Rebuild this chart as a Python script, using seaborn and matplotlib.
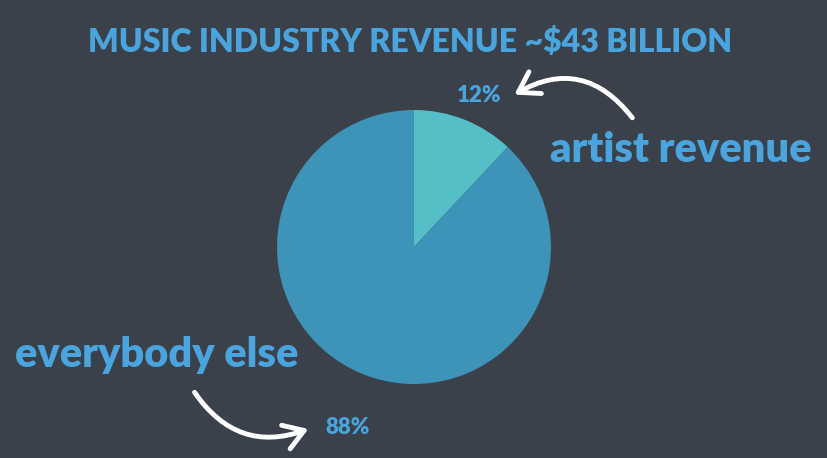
import matplotlib
matplotlib.use("Agg")
import matplotlib.pyplot as plt
import seaborn as sns
from matplotlib.patches import FancyArrowPatch

categories = ["artist revenue", "everybody else"]
shares = [12, 88]
pct_labels = ["12%", "88%"]
title = "MUSIC INDUSTRY REVENUE ~$43 BILLION"

BG = "#3a414b"
TXT = "#4aa5df"
slice_colors = ["#55bfc8", "#3d93b8"]

sns.set_theme(style="white")
plt.rcParams["font.family"] = ["Lato", "DejaVu Sans"]

W, H = 828, 458
fig = plt.figure(figsize=(W / 100, H / 100), dpi=100)
fig.patch.set_facecolor(BG)

def fx(x):
    return x / W

def fy(y):
    return 1 - y / H

cx, cy, r = 414, 247, 137
ax = fig.add_axes([fx(cx - r), fy(cy + r), 2 * r / W, 2 * r / H])
ax.set_facecolor(BG)
ax.pie(shares, colors=slice_colors, startangle=90, counterclock=False,
       wedgeprops=dict(linewidth=0), radius=1.0)
ax.set_xlim(-1, 1)
ax.set_ylim(-1, 1)
ax.set_aspect("equal")
ax.axis("off")

fig.text(fx(410), fy(42), title, color=TXT, fontsize=23, fontweight="heavy",
         ha="center", va="center")
fig.text(fx(681), fy(150), categories[0], color=TXT, fontsize=30, fontweight="heavy",
         ha="center", va="center")
fig.text(fx(157), fy(355), categories[1], color=TXT, fontsize=30, fontweight="heavy",
         ha="center", va="center")
fig.text(fx(479), fy(95), pct_labels[0], color=TXT, fontsize=16, fontweight="heavy",
         ha="center", va="center")
fig.text(fx(348), fy(427), pct_labels[1], color=TXT, fontsize=16, fontweight="heavy",
         ha="center", va="center")

a1 = FancyArrowPatch(posA=(fx(634), fy(120)), posB=(fx(512), fy(96)),
                     transform=fig.transFigure, connectionstyle="arc3,rad=0.45",
                     arrowstyle="->,head_length=0.7,head_width=0.45", mutation_scale=20,
                     color="white", lw=3.5, capstyle="round", joinstyle="round")
a2 = FancyArrowPatch(posA=(fx(193), fy(390)), posB=(fx(311), fy(428)),
                     transform=fig.transFigure, connectionstyle="arc3,rad=0.4",
                     arrowstyle="->,head_length=0.7,head_width=0.45", mutation_scale=20,
                     color="white", lw=3.5, capstyle="round", joinstyle="round")
fig.patches.extend([a1, a2])

fig.savefig("out.png", dpi=100, facecolor=BG)
